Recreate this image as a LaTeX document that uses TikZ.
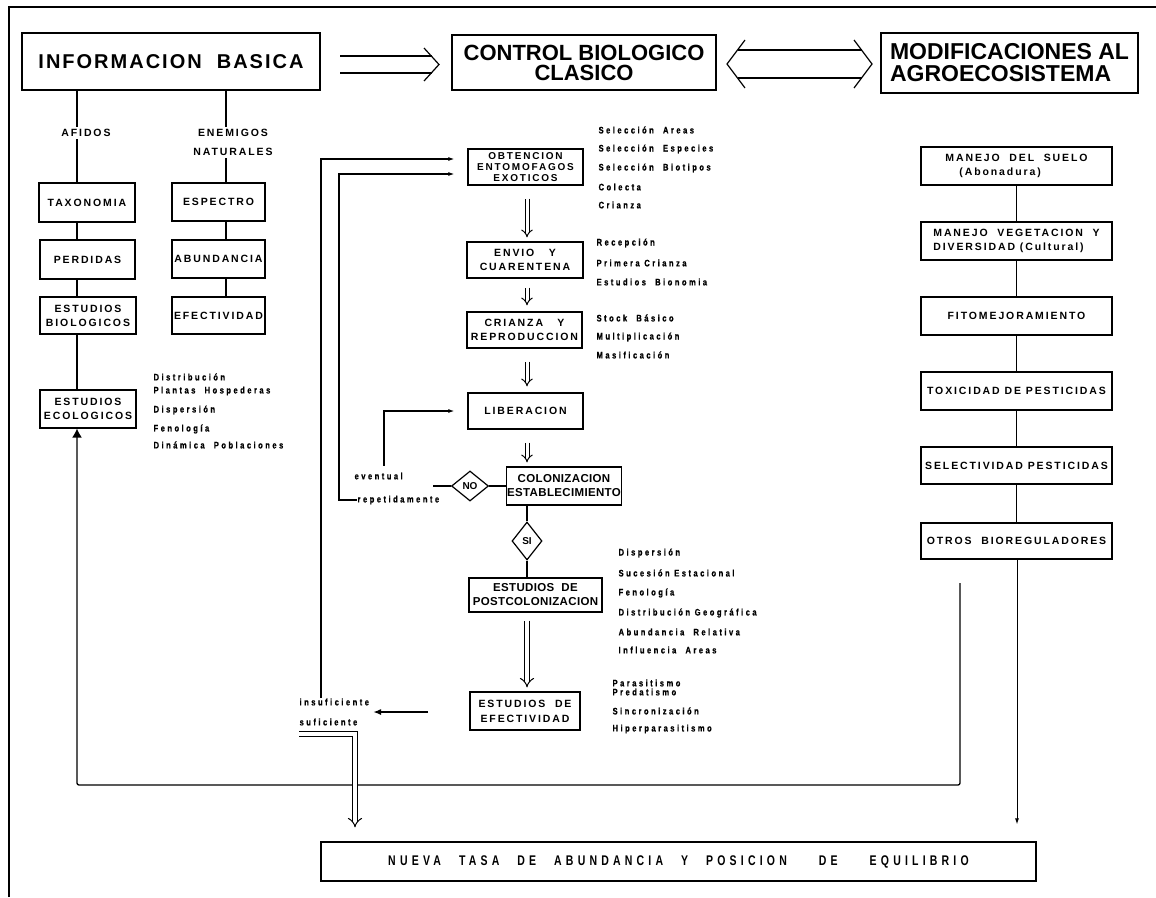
\documentclass[tikz,border=0pt]{standalone}
\usepackage{fontspec}
\setmainfont{Liberation Sans}
\newfontfamily\headfont[LetterSpace=10]{Liberation Sans}
\newfontfamily\boxfont[LetterSpace=18]{Liberation Sans}
\newfontfamily\tightfont[LetterSpace=3]{Liberation Sans}
\newfontfamily\notefont[LetterSpace=26,FakeStretch=0.8,FakeBold=0.6]{Liberation Sans}
\newfontfamily\basefont[LetterSpace=30,FakeStretch=0.75]{Liberation Sans}
\usepackage{tikz}
\usetikzlibrary{positioning,arrows.meta,shapes.geometric}

\begin{document}
\begin{tikzpicture}[x=1pt, y=-1pt, line width=1.2pt,
  headbox/.style={draw, line width=1.5pt, inner sep=2pt, font=\bfseries\fontsize{22}{20}\selectfont},
  stagebox/.style={draw, line width=1.2pt, align=center, inner sep=1pt, font=\boxfont\bfseries\fontsize{10.5}{14}\selectfont},
  tightbox/.style={stagebox, font=\tightfont\bfseries\fontsize{11.5}{14}\selectfont},
  lbl/.style={inner sep=2pt, align=center, font=\boxfont\bfseries\fontsize{10.5}{19}\selectfont},
  note/.style={anchor=west, inner sep=0pt, font=\notefont\bfseries\fontsize{9.5}{10}\selectfont},
  query/.style={diamond, draw, line width=1.2pt, inner sep=0pt, font=\bfseries\fontsize{10}{10}\selectfont},
  flow/.style={double, double distance=3pt, line width=1pt, -{Implies}},
  feedback/.style={line width=1.3pt, -{Latex[length=6pt,width=4pt]}},
]
\useasboundingbox (0,0) rectangle (1156,897);
\draw[line width=1.6pt] (9,897) -- (9,7) -- (1156,7);

% top row
\node[headbox, minimum width=298pt, minimum height=57pt, font=\headfont\bfseries\fontsize{20}{20}\selectfont] (info) at (171,61.5) {INFORMACION\ \ BASICA};
\node[headbox, minimum width=264pt, minimum height=55pt, align=center] (control) at (584,62.5) {CONTROL BIOLOGICO\\CLASICO};
\node[headbox, minimum width=257pt, minimum height=60pt, align=left, font=\bfseries\fontsize{23}{22}\selectfont] (modif) at (1009.5,63) {MODIFICACIONES AL\\AGROECOSISTEMA};
% double arrows, drawn by hand
\coordinate (a1s) at (340,64.5);
\coordinate (a1t) at (439,64.5);
\draw (a1s) ++(0,-8.5) -- ++(92,0);
\draw (a1s) ++(0,8.5) -- ++(92,0);
\draw (a1t) ++(-15,-16.5) -- (a1t) -- ++(-15,16.5);
\coordinate (a2s) at (727,64);
\coordinate (a2t) at (872,64);
\draw (a2s) ++(10.5,-14) -- ++(124,0);
\draw (a2s) ++(10.5,14) -- ++(124,0);
\draw (a2s) ++(18,-24) -- (a2s) -- ++(18,24);
\draw (a2t) ++(-18,-24) -- (a2t) -- ++(-18,24);

% informacion basica
\coordinate (ax) at (77,0);
\coordinate (ex) at (226,0);
\node[lbl] (afid) at (86,133) {AFIDOS};
\node[lbl] (enem) at (233,142.5) {ENEMIGOS\\NATURALES};
\node[stagebox, minimum width=96pt, minimum height=39pt] (tax) at (87,202.5) {TAXONOMIA};
\node[stagebox, minimum width=95pt, minimum height=39pt] (perd) at (87.5,259.5) {PERDIDAS};
\node[stagebox, minimum width=96pt, minimum height=37pt] (bio) at (88,315.5) {ESTUDIOS\\BIOLOGICOS};
\node[stagebox, minimum width=96pt, minimum height=38pt] (eco) at (88,409) {ESTUDIOS\\ECOLOGICOS};
\node[stagebox, minimum width=93pt, minimum height=38pt] (esp) at (218.5,202) {ESPECTRO};
\node[stagebox, minimum width=93pt, minimum height=38pt] (abun) at (218.5,259) {ABUNDANCIA};
\node[stagebox, minimum width=93pt, minimum height=37pt] (efec) at (218.5,315.5) {EFECTIVIDAD};
\draw (info.south -| ax) -- (afid.north -| ax);
\draw (afid.south -| ax) -- (tax.north -| ax);
\draw (tax.south -| ax) -- (perd.north -| ax);
\draw (perd.south -| ax) -- (bio.north -| ax);
\draw (bio.south -| ax) -- (eco.north -| ax);
\draw (info.south -| ex) -- (enem.north -| ex);
\draw (enem.south -| ex) -- (esp.north -| ex);
\draw (esp.south -| ex) -- (abun.north -| ex);
\draw (abun.south -| ex) -- (efec.north -| ex);
\foreach \y/\t [count=\i] in {377/Distribución, 391/Plantas\ \ Hospederas, 410/Dispersión, 429/Fenología, 445/Dinámica\ \ Poblaciones}
  \node[note] (eco\i) at (153,\y) {\t};

% control biologico
\coordinate (cx) at (527,0);
\node[stagebox, minimum width=115pt, minimum height=36pt, font=\boxfont\bfseries\fontsize{10}{11}\selectfont] (obt) at (525.5,167) {OBTENCION\\ENTOMOFAGOS\\EXOTICOS};
\node[stagebox, minimum width=116pt, minimum height=36pt] (env) at (525,260) {ENVIO\ \ \ Y\\CUARENTENA};
\node[stagebox, minimum width=115pt, minimum height=36pt] (cri) at (524.5,330) {CRIANZA\ \ \ Y\\REPRODUCCION};
\node[stagebox, minimum width=115pt, minimum height=36pt] (lib) at (525.5,411) {LIBERACION};
\node[tightbox, minimum width=114pt, minimum height=38pt] (col) at (564,486) {COLONIZACION\\ESTABLECIMIENTO};
\node[query, minimum width=37pt, minimum height=30pt] (no) at (470,486) {NO};
\node[query, minimum width=30pt, minimum height=38pt] (si) at (527,541) {SI};
\node[tightbox, minimum width=133pt, minimum height=34pt] (post) at (535.5,595) {ESTUDIOS\ \ DE\\POSTCOLONIZACION};
\node[stagebox, minimum width=110pt, minimum height=38pt, font=\boxfont\bfseries\fontsize{10.5}{15}\selectfont] (eff) at (525,711) {ESTUDIOS\ \ DE\\EFECTIVIDAD};
\draw[flow, shorten <=13pt, shorten >=4pt] (obt.south -| cx) -- (env.north -| cx);
\draw[flow, shorten <=9pt, shorten >=6pt] (env.south -| cx) -- (cri.north -| cx);
\draw[flow, shorten <=13pt, shorten >=6pt] (cri.south -| cx) -- (lib.north -| cx);
\draw[flow, shorten <=13pt, shorten >=4pt] (lib.south -| cx) -- (col.north -| cx);
\draw (col.south -| cx) -- (si.north);
\draw (si.south) -- (post.north -| cx);
\draw[flow, double distance=4pt, shorten <=8pt, shorten >=4pt] (post.south -| cx) -- (eff.north -| cx);
\coordinate (noend) at (433,486);
\draw (col.west) -- (no.east);
\draw (no.west) -- (noend);

\foreach \y/\t [count=\i] in {130/Selección\ \ Areas, 149/Selección\ \ Especies, 168/Selección\ \ Biotipos, 187/Colecta, 205/Crianza}
  \node[note] (obt\i) at (598,\y) {\t};
\foreach \y/\t [count=\i] in {243/Recepción, 263/Primera\ Crianza, 282/Estudios\ \ Bionomia}
  \node[note] (env\i) at (596,\y) {\t};
\foreach \y/\t [count=\i] in {318/Stock\ \ Básico, 337/Multiplicación, 355/Masificación}
  \node[note] (cri\i) at (596,\y) {\t};
\foreach \y/\t [count=\i] in {553/Dispersión, 573/Sucesión\ Estacional, 593/Fenología, 613/Distribución\ Geográfica, 632/Abundancia\ \ Relativa, 650/Influencia\ \ Areas}
  \node[note] (post\i) at (618,\y) {\t};
\foreach \y/\t [count=\i] in {683/Parasitismo, 692/Predatismo, 711/Sincronización, 729/Hiperparasitismo}
  \node[note] (eff\i) at (612,\y) {\t};

% retornos
\node[note] (even) at (354,476) {eventual};
\node[note] (repe) at (357,500) {repetidamente};
\node[note] (insu) at (299,702) {insuficiente};
\node[note] (sufi) at (299,722) {suficiente};
\coordinate (fo) at (321,159);
\coordinate (fi) at (339,174);
\coordinate (ev) at (384,0);
\draw[feedback] (insu.north -| fo) -- (fo) -- ([xshift=-13pt]obt.west |- fo);
\draw[feedback] (repe.west) -| (fi) -- ([xshift=-13pt]obt.west |- fi);
\draw[feedback] ([yshift=6pt]even.north -| ev) |- ([xshift=-13pt]lib.west);
\coordinate (ea) at (428,712);
\coordinate (eb) at (373,712);
\draw[line width=2.2pt, -{Latex[length=8pt,width=6pt]}] (ea) -- (eb);

% modificaciones
\coordinate (mx) at (1017,0);
\node[stagebox, minimum width=191pt, minimum height=38pt, align=left] (suelo) at (1016.5,166) {MANEJO\ \ DEL\ \ SUELO\\\hspace*{14pt}(Abonadura)};
\node[stagebox, minimum width=191pt, minimum height=38pt, align=left] (veg) at (1016.5,241) {MANEJO\ \ VEGETACION\ \ Y\\DIVERSIDAD (Cultural)};
\node[stagebox, minimum width=191pt, minimum height=38pt] (fito) at (1016.5,316) {FITOMEJORAMIENTO};
\node[stagebox, minimum width=191pt, minimum height=38pt] (tox) at (1016.5,391) {TOXICIDAD DE PESTICIDAS};
\node[stagebox, minimum width=191pt, minimum height=37pt] (sel) at (1016.5,465.5) {SELECTIVIDAD PESTICIDAS};
\node[stagebox, minimum width=191pt, minimum height=36pt] (otr) at (1016.5,541) {OTROS\ \ BIOREGULADORES};
\draw (suelo) -- (veg);
\draw (veg) -- (fito);
\draw (fito) -- (tox);
\draw (tox) -- (sel);
\draw (sel) -- (otr);

% nueva tasa
\node[draw, line width=1.2pt, minimum width=715pt, minimum height=39pt, font=\basefont\bfseries\fontsize{14}{14}\selectfont] (nuev) at (678.5,861.5) {NUEVA\hspace{18pt}TASA\hspace{18pt}DE\hspace{18pt}ABUNDANCIA\hspace{18pt}Y\hspace{18pt}POSICION\hspace{32pt}DE\hspace{32pt}EQUILIBRIO};
\draw[line width=1pt, -{Latex[length=6pt,width=4pt]}, shorten >=17pt] (otr.south -| mx) -- (nuev.north -| mx);

% lazo inferior
\coordinate (rtop) at (960,583);
\coordinate (rbot) at (960,785);
\draw[line width=1.3pt, rounded corners=2pt, -{Latex[length=9pt,width=10pt]}] (rtop) -- (rbot) -| (eco.south -| ax);
\coordinate (dx) at (355,0);
\draw[flow, double distance=4pt, shorten >=14pt] ([yshift=-8pt]sufi.south west) -| (nuev.north -| dx);
\end{tikzpicture}
\end{document}
